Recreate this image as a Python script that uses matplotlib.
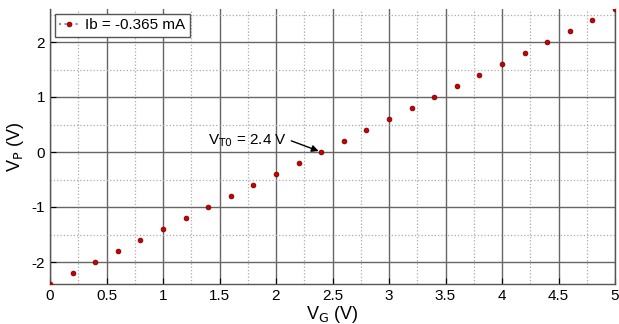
import matplotlib
matplotlib.use("Agg")
import matplotlib.pyplot as plt
from matplotlib.ticker import MultipleLocator

vg = [0.0, 0.2, 0.4, 0.6, 0.8, 1.0, 1.2, 1.4, 1.6, 1.8, 2.0, 2.2, 2.4, 2.6, 2.8,
      3.0, 3.2, 3.4, 3.6, 3.8, 4.0, 4.2, 4.4, 4.6, 4.8, 5.0]
vp = [-2.4, -2.2, -2.0, -1.8, -1.6, -1.4, -1.2, -1.0, -0.8, -0.6, -0.4, -0.2, 0.0,
      0.2, 0.4, 0.6, 0.8, 1.0, 1.2, 1.4, 1.6, 1.8, 2.0, 2.2, 2.4, 2.6]
legend_label = "Ib = -0.365 mA"
vt0 = 2.4

plt.rcParams['font.family'] = ['Liberation Sans', 'DejaVu Sans']
plt.rcParams['axes.unicode_minus'] = False
fig = plt.figure(figsize=(6.19, 3.24), dpi=100)
ax = fig.add_axes([50/619, 40/324, 565/619, 275/324])

ax.plot(vg, vp, linestyle=':', color='none', marker='o', markersize=3.4,
        markerfacecolor='#cc0000', markeredgecolor='#7a0000', markeredgewidth=0.6,
        label=legend_label, zorder=5)

ax.set_xlim(0, 5)
ax.set_ylim(-2.4, 2.6)
ax.set_xticks([0, 0.5, 1, 1.5, 2, 2.5, 3, 3.5, 4, 4.5, 5])
ax.set_xticklabels(['0', '0.5', '1', '1.5', '2', '2.5', '3', '3.5', '4', '4.5', '5'])
ax.xaxis.set_minor_locator(MultipleLocator(0.25))
ax.yaxis.set_major_locator(MultipleLocator(1))
ax.yaxis.set_minor_locator(MultipleLocator(0.5))
ax.grid(which='major', color='#666666', linestyle='-', linewidth=1.0)
ax.grid(which='minor', color='#aaaaaa', linestyle=':', linewidth=0.9)
ax.tick_params(which='both', direction='in', labelsize=11, length=4)
ax.tick_params(which='minor', length=0)
for s in ax.spines.values():
    s.set_color('#555555')
    s.set_linewidth(1.0)
ax.spines['top'].set_visible(False)

ax.set_xlabel(r'V$_\mathrm{G}$ (V)', fontsize=13, labelpad=1)
ax.set_ylabel(r'V$_\mathrm{P}$ (V)', fontsize=13, labelpad=4)

ax.annotate(r'V$_\mathrm{T0}$ = 2.4 V', xy=(vt0, 0.0), xytext=(1.4, 0.2),
            fontsize=11, ha='left', va='center',
            arrowprops=dict(arrowstyle='-|>', color='black', lw=1.0,
                            relpos=(1.0, 0.6), shrinkA=1, shrinkB=2,
                            mutation_scale=10))

leg = ax.legend(loc='upper left', fontsize=11, handlelength=1.3, borderpad=0.3,
                handletextpad=0.4, fancybox=False, framealpha=1,
                borderaxespad=0.3)
leg.get_frame().set_edgecolor('#555555')
leg.get_frame().set_linewidth(1.0)
for h in leg.get_lines():
    h.set_color('#8888cc')
    h.set_linestyle(':')

fig.savefig('out.png', dpi=100)
